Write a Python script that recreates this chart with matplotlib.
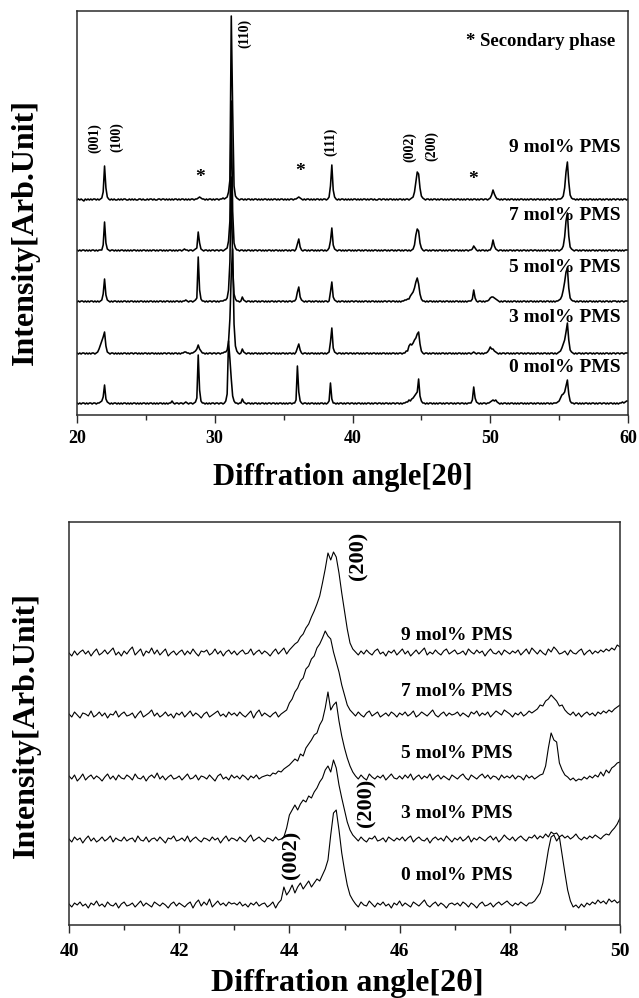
import numpy as np
import matplotlib
matplotlib.use("Agg")
import matplotlib.pyplot as plt
from matplotlib.ticker import MultipleLocator

plt.rcParams['font.family'] = ['Liberation Serif', 'DejaVu Serif']
plt.rcParams['font.weight'] = 'bold'
plt.rcParams['mathtext.default'] = 'regular'

compositions = ['0 mol% PMS', '3 mol% PMS', '5 mol% PMS', '7 mol% PMS', '9 mol% PMS']

# ---------------- wide scan: 2theta 20-60 deg, 0.1 deg step ----------------
WIDE_START, WIDE_STEP = 20.0, 0.1

wide_0 = [
    1,0,1,0,1,1,0,1,0,1, 1,0,1,1,0,1,1,2,3,7, 19,5,2,1,0,1,0,1,1,0, 1,0,1,0,1,1,0,1,0,1,
    0,1,1,0,1,0,1,0,1,1, 0,1,0,1,1,0,1,0,1,0, 1,1,0,1,0,1,0,1,1,3, 1,0,1,1,0,1,1,0,1,2,
    1,0,1,1,0,1,2,6,49,14, 3,1,1,0,1,0,1,0,1,1, 0,1,1,0,1,1,0,1,3,10, 63,45,25,8,3,1,1,0,1,1,
    5,2,1,0,1,1,0,1,0,1, 1,0,1,0,1,1,0,1,0,1, 1,0,1,1,0,1,0,1,1,0, 1,0,1,0,1,1,0,1,1,4,
    38,12,3,1,0,1,1,0,1,0, 1,1,0,1,0,1,0,1,1,0, 1,0,1,3,21,5,1,1,0,1, 0,1,1,0,1,0,1,1,0,1,
    1,0,1,0,1,1,0,1,0,1, 0,1,1,0,1,0,1,1,0,1, 1,0,1,0,1,1,0,1,0,1, 1,0,1,1,0,1,0,1,1,2,
    2,4,3,5,6,8,10,12,25,8, 3,1,1,0,1,0,1,1,0,1, 0,1,0,1,1,0,1,0,1,1, 0,1,1,0,1,0,1,1,0,1,
    1,0,1,0,1,1,1,4,17,6, 2,1,0,1,0,1,1,0,1,1, 2,3,4,3,4,2,1,0,1,0, 1,1,0,1,0,1,1,0,1,0,
    1,0,1,1,0,1,0,1,0,1, 1,0,1,0,1,1,0,1,0,1, 0,1,1,0,1,0,1,1,1,2, 3,6,9,10,12,18,24,10,3,1,
    1,0,1,1,0,1,0,1,0,1, 1,0,1,0,1,1,0,1,0,1, 1,0,1,1,0,1,0,1,1,0, 1,0,1,0,1,1,2,1,2,3,
    3,
]

wide_3 = [
    1,0,1,0,1,1,0,1,0,1, 0,1,1,0,1,2,5,9,13,17, 22,8,2,1,0,1,1,0,1,0, 1,0,1,0,1,1,0,1,0,1,
    1,0,1,1,0,1,0,1,0,1, 1,0,1,0,1,1,0,1,0,1, 0,1,0,1,1,0,1,1,0,1, 0,1,1,0,1,0,1,1,2,2,
    1,1,0,1,1,2,3,5,9,5, 3,1,1,0,1,0,1,1,0,1, 1,0,1,1,0,1,1,2,2,4, 12,35,80,105,30,8,3,1,0,1,
    5,2,1,0,1,1,0,1,0,1, 1,0,1,0,1,0,1,1,0,1, 1,0,1,1,0,1,0,1,0,1, 1,0,1,0,1,1,0,1,0,2,
    6,10,4,1,0,1,1,0,1,0, 1,1,0,1,0,1,0,1,1,0, 1,0,1,2,12,26,6,2,1,0, 1,1,0,1,0,1,1,0,1,1,
    0,1,0,1,1,0,1,0,1,0, 1,1,0,1,0,1,1,0,1,0, 1,0,1,1,0,1,0,1,0,1, 1,0,1,0,1,1,0,1,1,3,
    3,8,10,9,11,14,16,20,22,10, 3,1,0,1,1,0,1,0,1,1, 0,1,0,1,0,1,1,0,1,0, 1,1,0,1,0,1,0,1,1,0,
    1,0,1,0,1,1,0,1,2,1, 0,1,1,0,1,0,1,1,2,4, 7,5,5,3,2,1,0,1,0,1, 1,0,1,1,0,1,0,1,0,1,
    1,0,1,1,0,1,0,1,1,0, 1,0,1,0,1,1,0,1,0,1, 1,0,1,0,1,1,0,1,0,1, 2,3,6,10,14,22,31,14,4,2,
    1,0,1,0,1,1,0,1,0,1, 1,0,1,1,0,1,0,1,1,0, 1,0,1,0,1,1,0,1,0,1, 1,0,1,1,0,1,1,0,1,1,
    1,
]

wide_5 = [
    0,1,0,1,1,0,1,0,1,0, 1,1,0,1,0,1,0,1,2,8, 23,7,2,1,0,1,0,1,1,0, 1,0,1,0,1,1,0,1,0,1,
    1,0,1,0,1,0,1,1,0,1, 0,1,0,1,1,0,1,0,1,0, 1,1,0,1,0,1,1,0,1,0, 1,0,1,1,0,1,0,1,1,2,
    1,0,1,1,0,1,2,4,45,12, 3,1,1,0,1,0,1,1,0,1, 1,0,1,0,1,1,1,2,2,4, 12,40,125,35,8,3,1,1,0,1,
    5,2,1,0,1,1,0,1,0,1, 1,0,1,0,1,1,0,1,0,1, 0,1,1,0,1,0,1,1,0,1, 1,0,1,0,1,1,0,1,1,3,
    10,15,5,2,1,0,1,0,1,1, 0,1,0,1,1,0,1,0,1,0, 1,1,0,1,10,20,5,2,1,0, 1,0,1,1,0,1,0,1,0,1,
    1,0,1,1,0,1,0,1,0,1, 1,0,1,0,1,1,0,1,0,1, 0,1,0,1,1,0,1,1,0,1, 1,0,1,0,1,0,1,1,2,2,
    3,3,6,8,10,14,20,24,18,8, 3,1,1,0,1,0,1,1,0,1, 0,1,0,1,1,0,1,0,1,1, 0,1,0,1,0,1,1,0,1,0,
    1,0,1,0,1,1,1,3,12,4, 1,0,1,1,0,1,0,1,1,2, 4,5,5,4,3,2,1,0,1,0, 1,1,0,1,0,1,0,1,1,0,
    1,0,1,0,1,1,0,1,0,1, 1,0,1,0,1,0,1,1,0,1, 0,1,1,0,1,0,1,0,1,1, 2,3,6,12,20,30,34,14,4,2,
    1,1,0,1,0,1,1,0,1,0, 1,0,1,1,0,1,0,1,0,1, 1,0,1,0,1,1,0,1,0,1, 1,1,0,1,0,1,1,0,1,1,
    1,
]

wide_7 = [
    1,0,1,0,1,1,0,1,0,1, 0,1,1,0,1,0,1,1,1,6, 29,8,2,1,0,1,1,0,1,0, 1,0,1,1,0,1,0,1,0,1,
    0,1,1,0,1,0,1,0,1,1, 0,1,0,1,0,1,1,0,1,0, 1,1,0,1,0,1,0,1,1,0, 1,0,1,0,1,1,0,1,2,1,
    1,0,1,1,0,1,2,3,19,8, 2,1,0,1,1,0,1,0,1,1, 0,1,1,0,1,1,0,1,2,3, 10,30,150,40,8,3,1,1,0,1,
    1,0,1,0,1,1,0,1,0,1, 1,0,1,1,0,1,0,1,0,1, 1,0,1,0,1,1,0,1,0,1, 0,1,1,0,1,0,1,1,0,2,
    7,12,4,1,0,1,1,0,1,0, 1,1,0,1,0,1,0,1,1,0, 1,0,1,3,10,23,6,2,1,0, 1,1,0,1,0,1,0,1,1,0,
    1,0,1,0,1,1,0,1,0,1, 1,0,1,0,1,0,1,1,0,1, 0,1,0,1,1,0,1,0,1,1, 0,1,0,1,1,0,1,0,1,1,
    0,1,0,1,2,6,16,22,20,8, 3,1,0,1,1,0,1,0,1,1, 0,1,0,1,1,0,1,0,1,0, 1,1,0,1,0,1,1,0,1,0,
    1,0,1,1,0,1,1,2,5,3, 1,0,1,0,1,1,0,1,0,1, 1,4,11,5,2,1,0,1,1,0, 1,0,1,0,1,1,0,1,0,1,
    1,0,1,0,1,1,0,1,0,1, 1,0,1,1,0,1,0,1,0,1, 0,1,1,0,1,0,1,0,1,1, 0,1,2,5,14,30,38,15,4,2,
    1,0,1,1,0,1,0,1,1,0, 1,0,1,0,1,1,0,1,0,1, 1,0,1,0,1,0,1,1,0,1, 0,1,1,0,1,0,1,0,1,1,
    1,
]

wide_9 = [
    0,1,0,1,0,-1,1,0,1,0, 1,0,1,1,0,1,0,1,2,8, 34,12,3,1,0,1,0,1,0,0, 1,0,1,0,1,1,0,0,1,0,
    1,0,1,0,0,1,1,0,1,0, 0,1,0,1,1,0,1,0,0,1, 1,0,1,1,0,1,0,1,0,1, 0,1,1,0,1,0,1,1,0,1,
    0,1,0,1,1,0,1,1,2,3, 2,1,1,0,1,0,1,1,0,1, 0,1,1,0,1,1,2,1,2,3, 8,20,184,90,14,4,2,1,0,1,
    1,0,1,0,1,1,0,1,0,1, 1,0,1,0,1,0,1,1,0,1, 0,1,0,1,1,0,1,0,1,1, 0,1,0,1,0,1,1,0,1,1,
    2,3,2,1,0,1,0,1,1,0, 1,0,1,0,1,1,0,1,0,1, 1,0,1,3,14,35,10,3,1,0, 1,0,1,1,0,1,0,1,0,1,
    0,1,1,0,1,0,1,0,1,1, 0,1,0,1,1,0,1,0,0,1, 1,0,1,1,0,1,0,1,1,0, 1,0,1,0,1,1,0,1,0,1,
    1,0,1,2,3,8,18,28,26,12, 4,2,1,0,1,1,0,1,0,1, 1,0,1,0,1,1,0,1,0,1, 0,1,1,0,1,0,1,1,0,1,
    0,1,0,1,1,0,1,0,1,1, 0,1,0,1,1,0,1,1,0,1, 2,5,10,6,3,1,1,0,1,0, 1,1,0,1,0,1,1,0,1,0,
    1,0,1,1,0,1,0,1,0,1, 1,0,1,0,1,1,0,1,0,1, 0,1,1,0,1,0,1,1,0,1, 1,1,2,4,12,28,38,18,5,2,
    1,1,0,1,0,1,1,0,1,0, 1,0,1,1,0,1,0,1,0,1, 1,0,1,0,1,1,0,1,0,1, 1,0,1,1,0,1,0,1,1,0,
    1,
]

wide_scans = [wide_0, wide_3, wide_5, wide_7, wide_9]
wide_offsets = [0, 50, 102, 153, 204]

# ---------------- fine scan: 2theta 40-50 deg, 0.05 deg step ----------------
FINE_START, FINE_STEP = 40.0, 0.05

fine_0 = [
    1,-2,2,0,3,-1,1,-3,2,0, 4,-1,1,-2,3,0,-1,2,-3,1,
    3,-1,0,2,-2,1,4,-1,2,0, -2,3,1,-1,2,0,-3,1,3,-1,
    2,0,-2,1,3,-3,2,5,-1,3, 0,6,-2,1,4,0,2,-1,3,1,
    2,0,3,-1,1,-2,2,0,3,-1, 1,2,-2,0,3,-3,2,5,18,10,
    14,20,12,18,22,16,20,24,18,22, 26,24,30,36,45,70,92,95,75,52,
    35,20,10,5,1,-2,3,0,-1,4, 1,-2,2,0,3,-1,1,-3,2,0,
    4,-1,2,0,-2,3,1,-1,2,5, 0,-2,1,3,-1,2,0,-3,1,2,
    0,2,-1,3,1,-2,2,0,-3,1, 3,-1,0,2,-2,1,3,0,2,4,
    1,-1,2,0,3,1,-1,2,2,4, 8,12,22,38,55,68,70,64,68,50,
    32,15,4,-2,0,-3,1,-2,2,0, 3,1,5,2,4,1,6,3,5,2,
    4,
]

fine_3 = [
    1,-2,3,0,2,-3,1,4,-1,2, -2,0,3,-1,1,4,-2,2,0,-1,
    3,-1,1,2,-2,4,0,-1,3,-2, 1,2,-1,3,0,-3,2,1,4,-1,
    0,2,-1,4,-2,1,3,0,-2,2, 1,-1,3,0,2,-3,1,4,-1,2,
    1,-1,3,0,-2,2,5,-1,1,3, 0,-2,2,1,-1,3,0,1,3,12,
    25,30,35,30,36,40,38,44,42,48, 52,58,62,70,74,68,80,72,55,42,
    30,18,10,5,2,-1,3,0,-2,2, 1,4,-1,0,2,-2,3,1,-1,2,
    0,3,-1,2,4,-2,1,3,0,-1, 2,-3,1,3,0,2,-1,4,1,-2,
    2,0,3,-1,1,4,-2,2,0,3, 1,-1,2,4,0,3,-2,1,5,2,
    0,3,-1,2,4,1,-1,3,2,5, 1,4,2,6,3,8,6,7,3,5,
    2,4,1,3,6,2,0,3,1,4, 2,5,3,1,4,6,5,9,12,16,
    22,
]

fine_5 = [
    2,-1,3,-3,0,4,-2,1,3,-1, 2,0,-3,1,4,-1,2,-2,3,0,
    -1,3,1,-2,4,0,-1,2,-3,1, 3,0,5,-1,2,-2,1,3,-1,0,
    2,-2,1,4,-1,0,3,-2,2,1, -1,3,0,-3,2,4,-1,1,-2,3,
    0,2,-1,3,1,-2,2,0,3,-1, 1,2,3,2,5,4,7,6,9,11,
    13,16,19,17,24,22,30,34,38,43, 45,53,58,70,86,68,73,76,57,42,
    30,20,12,6,2,-1,3,0,-2,4, 1,-1,2,0,3,-2,1,4,0,-1,
    2,-1,3,0,4,-2,1,3,-1,2, 0,4,-2,1,3,-1,2,0,-2,3,
    1,-1,2,4,0,-2,3,1,-1,2, 4,0,3,-1,2,1,-2,3,0,2,
    0,3,-1,2,1,-2,3,0,2,-1, 1,3,4,12,30,45,38,36,15,8,
    3,1,-2,0,-3,-1,-2,1,-1,2, 0,3,1,6,2,8,5,10,12,15,
    16,
]

fine_7 = [
    1,-2,3,0,-3,2,1,-1,4,-2, 0,3,-1,2,-3,1,0,4,-2,1,
    3,-1,0,2,-3,1,4,-2,0,2, 5,-1,2,-2,0,3,-1,1,-3,2,
    0,3,-2,1,4,-1,2,0,-3,1, 3,-2,0,2,4,-1,1,-2,3,0,
    2,-1,3,0,-2,1,4,-3,2,5, -1,2,0,-2,1,3,-2,1,3,5,
    12,16,23,27,34,37,46,49,56,59, 67,71,77,84,79,76,63,53,43,30,
    20,10,5,2,-1,3,0,-2,2,4, -1,1,3,-2,0,2,-1,3,1,-2,
    2,0,3,-1,1,4,-2,0,3,1, -1,2,5,0,-2,1,3,-1,2,0,
    1,3,-1,2,0,-2,3,1,4,-1, 2,0,3,-2,1,4,2,0,5,3,
    1,-2,2,0,3,-1,1,4,2,4, 6,10,9,14,16,20,17,14,9,10,
    5,2,0,3,-1,2,-2,1,3,0, 2,-1,3,1,4,2,5,3,6,8,
    10,
]

fine_9 = [
    0,-3,2,-2,1,3,-1,2,-3,1, 4,-2,0,3,-1,2,5,-2,1,-3,
    2,-1,3,6,-2,1,4,-3,2,0, 5,-1,3,-2,1,4,-3,0,2,-2,
    1,3,-2,2,-1,4,0,-3,2,1, 3,-2,0,4,-1,2,-3,1,3,-1,
    2,-2,1,3,-1,0,4,-2,1,3, -1,2,0,-3,1,4,-1,2,5,-1,
    3,6,9,11,16,19,25,29,36,42, 49,57,70,84,100,93,101,96,80,60,
    42,24,10,4,1,-2,2,-1,3,0, -2,2,4,-1,1,-3,2,0,3,-2,
    1,4,-1,2,-3,0,3,-1,2,5, -2,1,-1,3,0,-2,2,4,-1,1,
    3,-1,0,2,-2,4,1,-1,3,0, 2,-3,1,4,0,-1,2,-2,3,1,
    -1,2,0,3,-2,1,4,-1,5,2, -1,3,0,-2,4,1,6,3,-1,0,
    2,-2,3,0,-1,2,4,-2,1,3, -1,2,0,3,1,4,2,5,3,8,
    6,
]

fine_scans = [fine_0, fine_3, fine_5, fine_7, fine_9]
fine_offsets = [0, 65, 127, 190, 252]

# reflection labels
wide_hkl = ['(001)', '(100)', '(110)', '(111)', '(002)', '(200)']
wide_hkl_pos = [21.3, 22.9, 32.2, 38.42, 44.17, 45.75]
wide_hkl_y = [266, 267, 371, 262, 257, 258]
secondary_pos = [28.93, 36.19, 48.75]
secondary_y = [227, 232, 224]

fine_hkl = ['(200)', '(200)', '(002)']
fine_hkl_pos = [45.25, 45.40, 44.04]
fine_hkl_y = [349, 102, 50]

# label positions for compositions
wide_label_y = [37, 86, 137, 189, 257]
fine_label_y = [30, 92, 152, 214, 270]

W, H = 639, 998
fig = plt.figure(figsize=(W / 100, H / 100), dpi=100)

spine_color = '#2b2b2b'


def style_axes(ax, major, minor, fs, pad):
    for s in ax.spines.values():
        s.set_color(spine_color)
        s.set_linewidth(1.1)
    ax.set_yticks([])
    ax.xaxis.set_major_locator(MultipleLocator(major))
    ax.xaxis.set_minor_locator(MultipleLocator(minor))
    ax.tick_params(axis='x', which='major', direction='out', length=6,
                   width=1.0, color=spine_color, labelsize=fs, pad=pad)
    ax.tick_params(axis='x', which='minor', direction='out', length=3.5,
                   width=1.0, color=spine_color)
    for lab in ax.get_xticklabels():
        lab.set_fontweight('bold')


# ---------------- top panel ----------------
ax1 = fig.add_axes([77 / W, 1 - 415 / H, 551 / W, 404 / H])
for scan, off in zip(wide_scans, wide_offsets):
    y = np.asarray(scan, float)
    x = WIDE_START + WIDE_STEP * np.arange(len(y))
    ax1.plot(x, y + off, color='black', lw=1.15)
ax1.set_xlim(20, 60)
ax1.set_ylim(-11, 393)
style_axes(ax1, 10, 5, 13, 4.5)

for name, ly in zip(compositions, wide_label_y):
    ax1.text(59.49, ly, name, ha='right', va='center', fontsize=14,
             fontweight='bold')
ax1.text(59.06, 362, '* Secondary phase', ha='right', va='center',
         fontsize=13.5, fontweight='bold')
for lab, px, py in zip(wide_hkl, wide_hkl_pos, wide_hkl_y):
    ax1.text(px, py, lab, rotation=90, ha='center', va='center',
             fontsize=10, fontweight='bold')
for px, py in zip(secondary_pos, secondary_y):
    ax1.text(px, py, '*', ha='center', va='center', fontsize=14,
             fontweight='bold')

# ---------------- bottom panel ----------------
ax2 = fig.add_axes([69 / W, 1 - 925 / H, 551 / W, 403 / H])
for scan, off in zip(fine_scans, fine_offsets):
    y = np.asarray(scan, float)
    x = FINE_START + FINE_STEP * np.arange(len(y))
    ax2.plot(x, y + off, color='black', lw=0.8)
ax2.set_xlim(40, 50)
ax2.set_ylim(-20, 383)
style_axes(ax2, 2, 1, 14, 7)

for name, ly in zip(compositions, fine_label_y):
    ax2.text(47.04, ly, name, ha='center', va='center', fontsize=14,
             fontweight='bold')
for lab, px, py in zip(fine_hkl, fine_hkl_pos, fine_hkl_y):
    ax2.text(px, py, lab, rotation=90, ha='center', va='center',
             fontsize=16, fontweight='bold')

# axis titles
fig.text(343 / W, 1 - 485 / H, 'Diffration angle[2θ]', ha='center',
         va='baseline', fontsize=22, fontweight='bold')
fig.text(347 / W, 1 - 991 / H, 'Diffration angle[2θ]', ha='center',
         va='baseline', fontsize=23, fontweight='bold')
fig.text(25 / W, 1 - 232 / H, 'Intensity[Arb.Unit]', rotation=90,
         ha='center', va='center', fontsize=23, fontweight='bold')
fig.text(26 / W, 1 - 725 / H, 'Intensity[Arb.Unit]', rotation=90,
         ha='center', va='center', fontsize=23, fontweight='bold')

fig.savefig('out.png', dpi=100)
